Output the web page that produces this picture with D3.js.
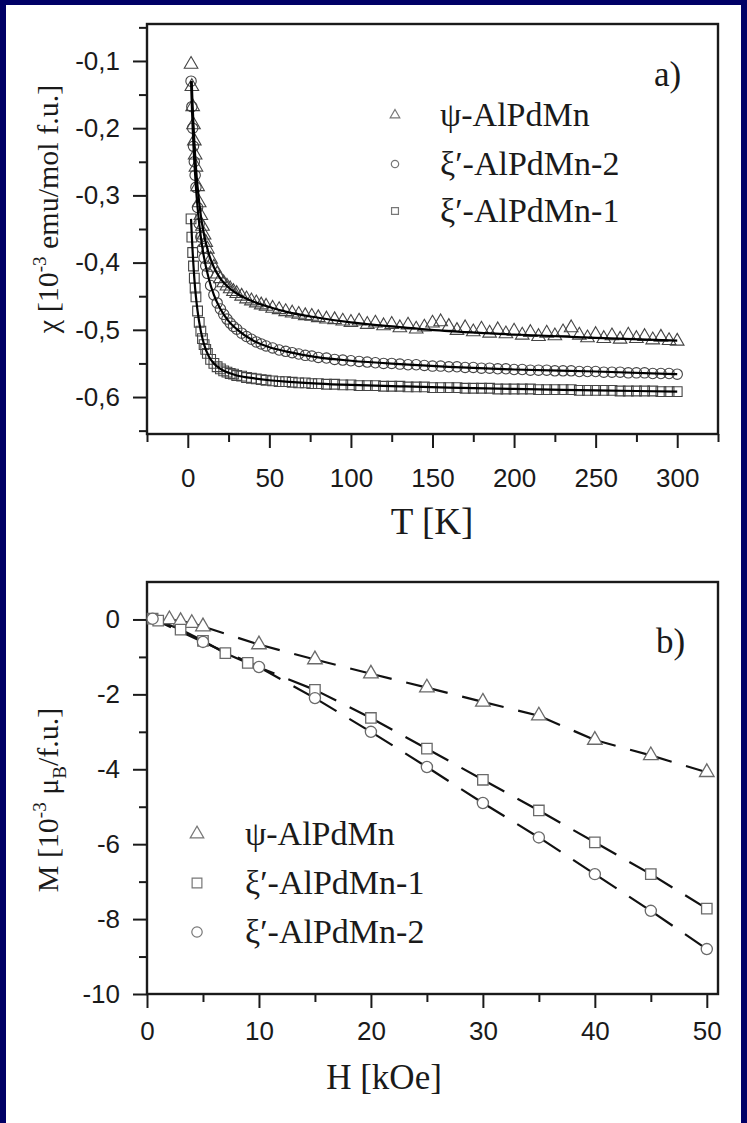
<!DOCTYPE html>
<html>
<head>
<meta charset="utf-8">
<script src="https://cdn.jsdelivr.net/npm/d3@7/dist/d3.min.js"></script>
<style>
  body { margin: 0; background: #fff; }
</style>
</head>
<body>
<script>
// ---- panel a) data: susceptibility vs temperature ----
const tempK = [2, 2.5, 3, 3.5, 4, 4.5, 5, 6, 7, 8, 9, 10, 11, 12, 14, 16, 18, 20, 22, 24, 26, 28, 30,
  33, 36, 39, 42, 45, 48, 52, 56, 60, 64, 68, 72, 76, 80, 85, 90, 95,
  100, 105, 110, 115, 120, 125, 130, 135, 140, 145, 150, 155, 160, 165, 170, 175, 180, 185, 190, 195,
  200, 205, 210, 215, 220, 225, 230, 235, 240, 245, 250, 255, 260, 265, 270, 275, 280, 285, 290, 295, 300];

const chiPsi = [-0.105, -0.138, -0.168, -0.195, -0.219, -0.240, -0.258, -0.287, -0.311, -0.330, -0.346, -0.359, -0.370, -0.380,
  -0.395, -0.407, -0.417, -0.424, -0.430, -0.435, -0.439, -0.443, -0.446,
  -0.450, -0.454, -0.457, -0.460, -0.463, -0.465, -0.468, -0.470, -0.473, -0.475, -0.477, -0.479, -0.480, -0.482,
  -0.484, -0.485, -0.487,
  -0.489, -0.487, -0.492, -0.490, -0.494, -0.492, -0.497, -0.493, -0.499, -0.496, -0.490, -0.488, -0.495, -0.501, -0.497, -0.503,
  -0.499, -0.505, -0.500, -0.506, -0.502, -0.508, -0.504, -0.510, -0.505, -0.509, -0.503, -0.497, -0.508, -0.512, -0.507,
  -0.513, -0.509, -0.514, -0.508, -0.513, -0.510, -0.515, -0.511, -0.516, -0.517];

const chiXi2 = [-0.130, -0.168, -0.200, -0.227, -0.250, -0.270, -0.288, -0.318, -0.342, -0.362, -0.379, -0.393, -0.405, -0.416,
  -0.434, -0.448, -0.460, -0.469, -0.477, -0.484, -0.490, -0.495, -0.499,
  -0.505, -0.510, -0.514, -0.518, -0.521, -0.524, -0.527, -0.530, -0.532, -0.534, -0.536, -0.538, -0.539, -0.541,
  -0.542, -0.544, -0.545,
  -0.546, -0.547, -0.548, -0.549, -0.550, -0.550, -0.551, -0.552, -0.552, -0.553, -0.554, -0.554, -0.555, -0.555, -0.556, -0.556,
  -0.557, -0.557, -0.558, -0.558, -0.559, -0.559, -0.560, -0.560, -0.560, -0.561, -0.561, -0.561, -0.562, -0.562, -0.562,
  -0.563, -0.563, -0.563, -0.564, -0.564, -0.564, -0.565, -0.565, -0.565, -0.566];

const chiXi1 = [-0.335, -0.362, -0.385, -0.405, -0.423, -0.438, -0.451, -0.472, -0.489, -0.502, -0.513, -0.522, -0.529, -0.535,
  -0.544, -0.550, -0.555, -0.558, -0.561, -0.563, -0.565, -0.566, -0.568,
  -0.569, -0.571, -0.572, -0.573, -0.574, -0.575, -0.576, -0.577, -0.577, -0.578, -0.579, -0.579, -0.580, -0.580,
  -0.581, -0.581, -0.582,
  -0.582, -0.583, -0.583, -0.583, -0.584, -0.584, -0.584, -0.585, -0.585, -0.585, -0.586, -0.586, -0.586, -0.586, -0.587, -0.587,
  -0.587, -0.587, -0.588, -0.588, -0.588, -0.588, -0.588, -0.589, -0.589, -0.589, -0.589, -0.589, -0.590, -0.590, -0.590,
  -0.590, -0.590, -0.591, -0.591, -0.591, -0.591, -0.591, -0.592, -0.592, -0.592];

// fitted curves (solid lines)
const fitTPsi = [2.4, 3, 3.5, 4, 5, 6, 8, 10, 13, 16, 20, 25, 30, 40, 50, 60, 80, 100, 130, 160, 200, 250, 300];
const fitPsi = [-0.130, -0.168, -0.195, -0.219, -0.258, -0.287, -0.330, -0.359, -0.388, -0.407, -0.424, -0.437, -0.446,
  -0.458, -0.466, -0.473, -0.482, -0.489, -0.496, -0.502, -0.507, -0.512, -0.516];
const fitTXi = [2, 2.5, 3, 3.5, 4, 5, 6, 8, 10, 13, 16, 20, 25, 30, 40, 50, 60, 80, 100, 130, 160, 200, 250, 300];
const fitXi2 = [-0.130, -0.168, -0.200, -0.227, -0.250, -0.288, -0.318, -0.362, -0.393, -0.425, -0.448, -0.469, -0.487,
  -0.499, -0.516, -0.526, -0.532, -0.541, -0.546, -0.551, -0.555, -0.559, -0.562, -0.566];
const fitXi1 = [-0.335, -0.362, -0.385, -0.405, -0.423, -0.451, -0.472, -0.502, -0.522, -0.540, -0.550, -0.558, -0.564,
  -0.568, -0.572, -0.575, -0.577, -0.580, -0.582, -0.584, -0.586, -0.588, -0.590, -0.592];

// ---- panel b) data: magnetisation vs field ----
const fieldPsi = [2, 3, 4, 5, 10, 15, 20, 25, 30, 35, 40, 45, 50];
const magPsi = [0.0, -0.05, -0.1, -0.19, -0.67, -1.07, -1.45, -1.82, -2.2, -2.57, -3.22, -3.63, -4.08];
const fieldXi1 = [0.5, 1, 3, 5, 7, 9, 15, 20, 25, 30, 35, 40, 45, 50];
const magXi1 = [0.02, -0.03, -0.27, -0.57, -0.9, -1.16, -1.88, -2.63, -3.45, -4.28, -5.1, -5.95, -6.8, -7.72];
const fieldXi2 = [0.5, 5, 10, 15, 20, 25, 30, 35, 40, 45, 50];
const magXi2 = [0.02, -0.6, -1.27, -2.1, -3.0, -3.94, -4.9, -5.82, -6.8, -7.78, -8.8];

// tick values
const tTicks = [0, 50, 100, 150, 200, 250, 300];
const tMinor = [-25, 25, 75, 125, 175, 225, 275, 325];
const chiTicks = [-0.1, -0.2, -0.3, -0.4, -0.5, -0.6];
const chiMinor = [-0.05, -0.15, -0.25, -0.35, -0.45, -0.55, -0.65];
const hTicks = [0, 10, 20, 30, 40, 50];
const hMinor = [5, 15, 25, 35, 45];
const mTicks = [0, -2, -4, -6, -8, -10];
const mMinor = [-1, -3, -5, -7, -9];

const width = 747, height = 1123;
const serif = '"Liberation Serif", "Times New Roman", serif';
const sans = '"Liberation Sans", Arial, sans-serif';
const ink = '#1a1a1a';

const svg = d3.select('body')
    .append('svg')
    .attr('width', width)
    .attr('height', height);

svg.append('rect').attr('width', width).attr('height', height).attr('fill', '#fff');

// navy border of the slide
const navy = '#000066';
svg.append('rect').attr('x', 0).attr('y', 0).attr('width', width).attr('height', 5).attr('fill', navy);
svg.append('rect').attr('x', 0).attr('y', 0).attr('width', 6).attr('height', height).attr('fill', navy);
svg.append('rect').attr('x', width - 6).attr('y', 0).attr('width', 6).attr('height', height).attr('fill', navy);

// Scales
const xT = d3.scaleLinear().domain([-25, 325]).range([147, 718]);
const yChi = d3.scaleLinear().domain([-0.045, -0.655]).range([24, 434]);
const xH = d3.scaleLinear().domain([0, 51]).range([147, 718]);
const yM = d3.scaleLinear().domain([1, -10]).range([582, 994]);

// hyphen instead of unicode minus, comma decimals
const fmtComma = d => d3.format('.1f')(d).replace('.', ',').replace('\u2212', '-');
const fmtInt = d => d3.format('d')(d).replace('\u2212', '-');

// Draw frame, ticks and labels for one panel
function drawAxes(xs, ys, xMaj, xMin, yMaj, yMin, yFmt, xPad) {
    const [x0, x1] = xs.range();
    const [y0, y1] = ys.range();
    const g = svg.append('g');

    g.append('g').attr('transform', `translate(0,${y1})`)
        .call(d3.axisBottom(xs).tickValues(xMaj).tickSize(14).tickPadding(xPad).tickFormat(fmtInt));
    g.append('g').attr('transform', `translate(0,${y1})`)
        .call(d3.axisBottom(xs).tickValues(xMin).tickSize(8).tickFormat(''));
    g.append('g').attr('transform', `translate(${x0},0)`)
        .call(d3.axisLeft(ys).tickValues(yMaj).tickSize(14).tickPadding(13).tickFormat(yFmt));
    g.append('g').attr('transform', `translate(${x0},0)`)
        .call(d3.axisLeft(ys).tickValues(yMin).tickSize(8).tickFormat(''));

    g.selectAll('.domain').remove();
    g.selectAll('.tick line').attr('stroke', ink).attr('stroke-width', 2);
    g.selectAll('.tick text').attr('font-family', sans).attr('font-size', 26).attr('fill', ink);

    g.append('rect')
        .attr('x', x0).attr('y', y0)
        .attr('width', x1 - x0).attr('height', y1 - y0)
        .attr('fill', 'none').attr('stroke', ink).attr('stroke-width', 2.4);
}

drawAxes(xT, yChi, tTicks, tMinor, chiTicks, chiMinor, fmtComma, 21);
drawAxes(xH, yM, hTicks, hMinor, mTicks, mMinor, fmtInt, 14);

// Symbol generators
const sym = {
    tri: d3.symbol().type(d3.symbolTriangle),
    circ: d3.symbol().type(d3.symbolCircle),
    sq: d3.symbol().type(d3.symbolSquare)
};
const symSize = { tri: 80, circ: 85, sq: 95 };

// ---- panel a) ----
const topSeries = [
    { key: 'tri', x: tempK, y: chiPsi, fx: fitTPsi, fy: fitPsi },
    { key: 'circ', x: tempK, y: chiXi2, fx: fitTXi, fy: fitXi2 },
    { key: 'sq', x: tempK, y: chiXi1, fx: fitTXi, fy: fitXi1 }
];

const plotA = svg.append('g');
topSeries.forEach(s => {
    plotA.append('g').selectAll('path')
        .data(s.x.map((t, i) => [t, s.y[i]]))
        .join('path')
        .attr('d', sym[s.key].size(symSize[s.key]))
        .attr('transform', d => `translate(${xT(d[0])},${yChi(d[1])})`)
        .attr('fill', 'none')
        .attr('stroke', '#444')
        .attr('stroke-width', 1.1);
});
const fitLine = d3.line().x(d => xT(d[0])).y(d => yChi(d[1])).curve(d3.curveMonotoneX);
topSeries.forEach(s => {
    plotA.append('path')
        .attr('d', fitLine(s.fx.map((t, i) => [t, s.fy[i]])))
        .attr('fill', 'none')
        .attr('stroke', '#000')
        .attr('stroke-width', 2.2);
});

// ---- panel b) ----
const botSeries = [
    { key: 'tri', x: fieldPsi, y: magPsi },
    { key: 'sq', x: fieldXi1, y: magXi1 },
    { key: 'circ', x: fieldXi2, y: magXi2 }
];

const plotB = svg.append('g');
botSeries.forEach(s => {
    // dashed connecting line: each segment starts and ends with a dash
    const pts = s.x.map((h, i) => [xH(h), yM(s.y[i])]);
    for (let i = 0; i < pts.length - 1; i++) {
        const [ax, ay] = pts[i], [bx, by] = pts[i + 1];
        const L = Math.hypot(bx - ax, by - ay);
        const seg = plotB.append('line')
            .attr('x1', ax).attr('y1', ay).attr('x2', bx).attr('y2', by)
            .attr('stroke', '#111').attr('stroke-width', 2.2);
        if (L > 35) {
            const dash = (L - 15) / 2;
            seg.attr('stroke-dasharray', `${dash} 15 ${dash} 200`);
        }
    }
});
botSeries.forEach(s => {
    plotB.append('g').selectAll('path')
        .data(s.x.map((h, i) => [h, s.y[i]]))
        .join('path')
        .attr('d', sym[s.key].size(symSize[s.key] * 1.15))
        .attr('transform', d => `translate(${xH(d[0])},${yM(d[1])})`)
        .attr('fill', '#fff')
        .attr('stroke', '#6a6a6a')
        .attr('stroke-width', 1.3);
});

// ---- legends ----
function legend(items, sx, tx, rows, symScale) {
    items.forEach((it, i) => {
        svg.append('path')
            .attr('d', sym[it.key].size(symSize[it.key] * symScale))
            .attr('transform', `translate(${sx},${rows[i]})`)
            .attr('fill', 'none').attr('stroke', '#777').attr('stroke-width', 1.2);
        svg.append('text')
            .attr('x', tx).attr('y', rows[i] + 11)
            .attr('font-family', serif).attr('font-size', 34).attr('fill', ink)
            .text(it.label);
    });
}
legend([
    { key: 'tri', label: 'ψ-AlPdMn' },
    { key: 'circ', label: 'ξ′-AlPdMn-2' },
    { key: 'sq', label: 'ξ′-AlPdMn-1' }
], 395, 440, [115, 164, 211], 0.5);
legend([
    { key: 'tri', label: 'ψ-AlPdMn' },
    { key: 'sq', label: 'ξ′-AlPdMn-1' },
    { key: 'circ', label: 'ξ′-AlPdMn-2' }
], 197, 245, [834, 883, 932], 1.0);

// panel letters
svg.append('text').attr('x', 654).attr('y', 86)
    .attr('font-family', serif).attr('font-size', 35).attr('fill', ink).text('a)');
svg.append('text').attr('x', 656).attr('y', 653)
    .attr('font-family', serif).attr('font-size', 35).attr('fill', ink).text('b)');

// axis titles
svg.append('text').attr('x', 432).attr('y', 534).attr('text-anchor', 'middle')
    .attr('font-family', serif).attr('font-size', 37).attr('fill', ink).text('T [K]');
svg.append('text').attr('x', 384).attr('y', 1089).attr('text-anchor', 'middle')
    .attr('font-family', serif).attr('font-size', 35).attr('fill', ink).text('H [kOe]');

const yTitleA = svg.append('text')
    .attr('transform', 'translate(58,209) rotate(-90)')
    .attr('text-anchor', 'middle')
    .attr('font-family', serif).attr('font-size', 30).attr('fill', ink);
yTitleA.append('tspan').text('χ [10');
yTitleA.append('tspan').attr('dy', -12).attr('font-size', 19).text('-3');
yTitleA.append('tspan').attr('dy', 12).text(' emu/mol f.u.]');

const yTitleB = svg.append('text')
    .attr('transform', 'translate(58,800) rotate(-90)')
    .attr('text-anchor', 'middle')
    .attr('font-family', serif).attr('font-size', 30).attr('fill', ink);
yTitleB.append('tspan').text('M [10');
yTitleB.append('tspan').attr('dy', -12).attr('font-size', 19).text('-3');
yTitleB.append('tspan').attr('dy', 12).text(' μ');
yTitleB.append('tspan').attr('dy', 8).attr('font-size', 19).text('B');
yTitleB.append('tspan').attr('dy', -8).text('/f.u.]');
</script>
</body>
</html>
